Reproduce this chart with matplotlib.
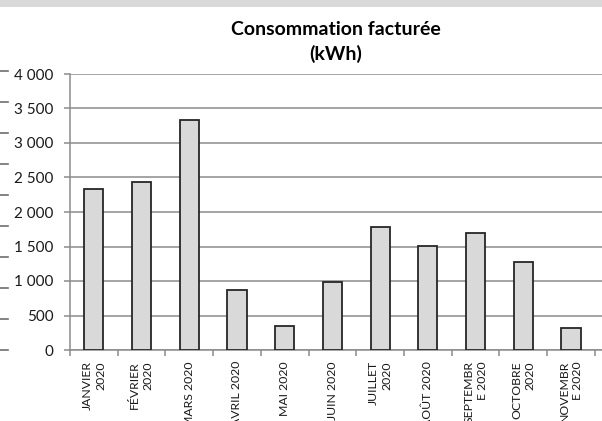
import matplotlib.pyplot as plt
from matplotlib.patches import Rectangle
from matplotlib.lines import Line2D

plt.rcParams['font.family'] = ['Lato', 'DejaVu Sans']

# donnees
mois = ['JANVIER\n2020', 'FÉVRIER\n2020', 'MARS 2020', 'AVRIL 2020', 'MAI 2020',
        'JUIN 2020', 'JUILLET\n2020', 'AOÛT 2020', 'SEPTEMBR\nE 2020',
        'OCTOBRE\n2020', 'NOVEMBR\nE 2020']
conso = [2335, 2435, 3340, 870, 350, 990, 1780, 1505, 1690, 1275, 325]
yticks = [0, 500, 1000, 1500, 2000, 2500, 3000, 3500, 4000]
ylabels = ['0', '500', '1 000', '1 500', '2 000', '2 500', '3 000', '3 500', '4 000']

W, H = 602, 421
fig = plt.figure(figsize=(W / 100, H / 100), dpi=100)
fig.patch.set_facecolor('white')

# bandeau gris en haut + petits traits du graphe voisin (coupe)
fig.patches.append(Rectangle((0, 1 - 7 / H), 1, 7 / H, transform=fig.transFigure,
                             facecolor='#d9d9d9', edgecolor='none'))
for i in range(10):
    yy = 1 - (71 + 31 * i) / H
    fig.lines.append(Line2D([0, 8 / W], [yy, yy], transform=fig.transFigure,
                            color='#6e6e6e', lw=1.2))

ax = fig.add_axes([70 / W, 1 - 350 / H, 1 - 70 / W, (350 - 74) / H])
x = range(len(mois))
ax.bar(x, conso, width=0.4, color='#d9d9d9', edgecolor='#262626', linewidth=1.3,
       zorder=3)

ax.set_ylim(0, 4000)
ax.set_xlim(-0.5, 10.65)
ax.set_yticks(yticks)
ax.set_yticklabels(ylabels, fontsize=11, color='#1a1a1a')
ax.yaxis.grid(True, color='#8c8c8c', lw=1.1, zorder=0)

ax.set_xticks(list(x))
ax.set_xticklabels(mois, rotation=90, fontsize=8.8, va='top', ha='center',
                   multialignment='right', linespacing=1.3, color='#1a1a1a')
ax.set_xticks([i - 0.5 for i in range(len(mois) + 1)], minor=True)
ax.tick_params(axis='x', which='major', length=0, pad=8)
ax.tick_params(axis='x', which='minor', length=4, color='#8c8c8c', width=1.1)
ax.tick_params(axis='y', length=4, color='#8c8c8c', width=1.1, pad=8)

for s in ['top', 'right']:
    ax.spines[s].set_visible(False)
for s in ['left', 'bottom']:
    ax.spines[s].set_color('#8c8c8c')
    ax.spines[s].set_linewidth(1.1)

ax.set_title('Consommation facturée\n(kWh)', fontsize=14, fontweight='bold',
             pad=10, linespacing=1.45)

fig.savefig('out.png', dpi=100)
